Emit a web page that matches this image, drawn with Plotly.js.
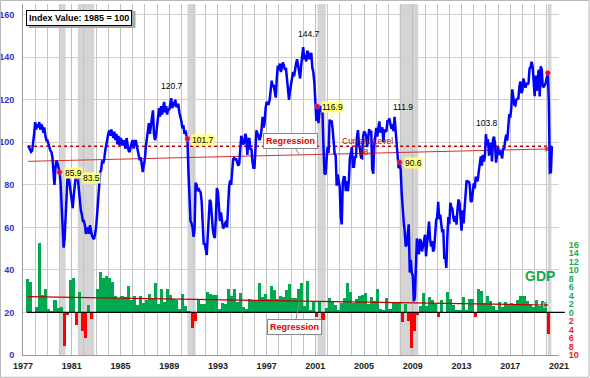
<!DOCTYPE html>
<html><head><meta charset="utf-8">
<script src="https://cdn.plot.ly/plotly-3.0.1.min.js"></script>
<style>html,body{margin:0;padding:0;background:#fff}#chart{width:590px;height:378px}</style>
</head><body><div id="chart"></div>
<script>
// Consumer confidence index, monthly, starting June 1977
const cciStartYear = 1977, cciStartMonth = 6;
const cciValues = [
  98.5, 97.5, 96.5, 95.5, 96, 99, 104,
  109.5, 106, 108.5, 107, 109.5, 106, 108.5, 107.5, 104.5, 107, 103, 101,
  101, 99, 97.5, 96, 95.4, 93, 86, 80, 88, 91.5, 90, 88,
  85.9, 81, 70, 58, 50.5, 55, 64, 76, 85, 84, 80, 76,
  72, 69, 75, 80, 84, 82, 83.5, 78, 72, 68, 66, 63,
  63, 61, 57, 58, 60, 57, 61, 58, 56, 55, 54.5, 57,
  60, 66, 74, 80, 86, 87, 91.5, 90, 92, 96, 99, 103,
  104, 105.6, 103, 106, 104, 102, 105, 101, 104, 99, 103, 98.5,
  102, 101, 98.5, 101, 99, 97, 102, 98, 96, 95.4, 98, 99.5,
  101, 97, 100, 101, 98.6, 96, 95, 91.5, 93, 88, 86, 89,
  92, 97.8, 101, 105, 109, 104, 108, 112, 115, 104, 101, 103,
  108, 113, 116, 112, 117, 113, 116, 119, 114, 117, 113, 116,
  115, 118, 120.7, 116, 119, 117, 120, 116.5, 117, 118, 114, 112,
  110, 106.5, 108, 104, 105.5, 103, 101.7, 86, 74, 63, 62, 60,
  55.5, 59, 81, 80, 77, 78.5, 77, 76.5, 72, 60, 52, 52.5,
  50, 47, 56, 65, 73, 72, 62, 59, 56, 55, 65, 78.5,
  76.5, 68.5, 63, 67, 61.5, 59.6, 60, 62, 63, 60, 71.5, 79,
  82, 80, 86, 92, 92.6, 92, 92, 90, 89, 90, 100, 103,
  101, 99, 100, 104, 102, 94, 101, 102, 96.5, 97, 91, 88,
  88, 98, 105.6, 104, 103, 101, 102.5, 106, 112, 107, 109, 116,
  119, 118, 118, 120, 125, 129, 126, 127, 124, 121, 130, 136,
  134, 137, 133, 136, 137.5, 136, 134, 135, 129, 122, 120, 124,
  128, 131.5, 133, 131, 135, 137, 139, 136, 134, 130, 136, 141,
  144.7, 139, 141, 138, 143, 142, 139, 141, 142, 135, 133, 128,
  118, 110, 116.9, 109, 114, 117, 116, 114, 97.8, 85.4, 84.9, 94.6,
  97.8, 95, 110.7, 108.5, 110.3, 106.3, 97.4, 94.5, 93.7, 79.6, 84.9, 80.7,
  78.8, 64.8, 61.4, 81, 83.6, 83.5, 77, 81.7, 77, 81.7, 92.5, 94.8,
  97.7, 88.5, 88.5, 93, 93.1, 102.8, 105.7, 98.7, 96.7, 92.9, 92.6, 102.7,
  105.1, 104.4, 103, 97.7, 103.1, 106.2, 103.6, 105.5, 87.5, 85.2, 98.3, 103.8,
  106.8, 102.7, 107.5, 109.8, 104.7, 105.4, 107, 100.2, 105.9, 105.1, 105.3, 110,
  110.2, 111.2, 108.2, 106.3, 108.5, 105.3, 111.9, 105.6, 99.5, 95.2, 87.8, 90.6,
  87.3, 76.4, 65.9, 62.8, 58.1, 51, 51.9, 58.5, 61.4, 38.8, 44.7, 38.6,
  37.4, 25.3, 26.9, 40.8, 54.8, 49.3, 47.4, 54.5, 53.4, 48.7, 50.6, 53.6,
  56.5, 46.4, 52.3, 57.7, 62.7, 54.3, 51, 53.5, 48.6, 49.9, 57.8, 63.4,
  64.8, 72, 63.8, 66, 61.7, 57.6, 59.2, 45.2, 46.4, 40.9, 55.2, 64.8,
  61.5, 71.6, 69.5, 68.7, 64.4, 62.7, 65.4, 61.3, 68.4, 73.1, 71.5, 66.7,
  58.4, 68, 61.9, 69, 76.2, 82.1, 81, 81.8, 80.2, 72.4, 72, 77.5,
  80.7, 78.3, 83.9, 81.7, 82.2, 86.4, 90.3, 93.4, 89, 94.1, 91, 93.1,
  103.8, 98.8, 101.4, 94.3, 94.6, 99.8, 91, 101.3, 102.6, 99.1, 90.4, 96.3,
  97.8, 94, 96.1, 94.7, 92.4, 97.4, 96.7, 101.1, 103.5, 100.8, 109.4, 113.3,
  111.6, 116.1, 124.9, 119.4, 117.6, 117.3, 120, 120.4, 120.6, 126.2, 128.6, 123.1,
  124.3, 130, 127, 125.6, 128, 127.1, 127.9, 134.7, 135.3, 137.9, 135.7, 126.6,
  121.7, 131.4, 124.2, 129.2, 134.1, 121.5, 135.7, 134.2, 126.3, 126.1, 126.8, 128.2,
  130.4, 132.6, 118.8, 85.7, 85.9, 98.1
];
// Real GDP growth, quarterly (annualized %), starting 1977 Q2
const gdpStartYear = 1977, gdpStartQuarter = 2;
const gdpValues = [
  7.8, 7.1, 0.0,
  1.3, 16.4, 4.1, 5.5,   0.7, 0.4, 3.0, 1.0,   1.3, -8.0, -0.5, 7.7,
  8.1, -2.9, 4.9, -4.3,  -6.1, 1.8, -1.5, 0.2,  5.4, 9.4, 8.2, 8.6,
  8.1, 7.1, 3.9, 3.3,    3.9, 3.6, 6.2, 3.0,    3.8, 1.8, 3.9, 2.2,
  3.0, 4.4, 3.5, 7.0,    2.1, 5.4, 2.4, 5.4,    4.1, 3.1, 3.0, 0.8,
  4.4, 1.5, 0.3, -3.6,   -1.9, 3.2, 2.0, 1.9,   4.9, 4.4, 4.0, 4.2,
  0.7, 2.3, 1.9, 5.4,    3.9, 5.5, 2.4, 4.6,    1.4, 0.9, 3.2, 2.9,
  2.6, 7.0, 3.6, 4.3,    3.1, 6.2, 5.2, 3.1,    3.8, 3.7, 5.3, 6.7,
  3.4, 3.4, 5.4, 7.0,    1.5, 7.5, 0.5, 2.5,    -1.1, 2.4, -1.7, 1.1,
  3.5, 2.4, 1.8, 0.6,    2.2, 3.5, 7.0, 4.7,    2.2, 3.1, 3.8, 4.1,
  4.5, 1.9, 3.6, 2.6,    5.4, 0.9, 0.6, 3.5,    0.9, 2.3, 2.2, 2.5,
  -2.3, 2.1, -2.1, -8.4, -4.4, -0.6, 1.5, 4.5,  1.5, 3.7, 3.0, 2.0,
  -1.0, 2.9, -0.1, 4.7,  3.2, 1.7, 0.5, 0.5,    3.6, 0.5, 3.2, 3.2,
  -1.1, 5.5, 5.0, 2.3,   3.8, 2.7, 1.5, 0.6,    2.4, 1.2, 2.4, 2.0,
  2.3, 1.7, 2.9, 3.9,    3.8, 2.7, 2.1, 1.3,    2.9, 1.5, 2.6, 2.4,
  -5.0
];
const recessions = [[1980.0, 1980.5], [1981.5, 1982.85], [1990.5, 1991.17], [2001.17, 2001.85], [2007.92, 2009.45], [2020.08, 2020.38]];
const recessionStarts = [[1980, 1], [1981, 7], [1990, 7], [2001, 3], [2007, 12], [2020, 2]];
const recessionLabelled = [true, true, true, true, true, false];
const peakDates = [[1989, 3], [2000, 1], [2007, 7], [2015, 1]];
const xTickYears = [1977, 1981, 1985, 1989, 1993, 1997, 2001, 2005, 2009, 2013, 2017, 2021];
const leftTicks = [0, 20, 40, 60, 80, 100, 120, 140, 160];
const gdpPosTicks = [0, 2, 4, 6, 8, 10, 12, 14, 16];
const gdpNegTicks = [-2, -4, -6, -8, -10];

const cciX = cciValues.map((v, i) => cciStartYear + (cciStartMonth - 1 + i) / 12);
const gdpX = gdpValues.map((v, i) => gdpStartYear + (gdpStartQuarter - 1 + i) / 4 + 0.125);
const monthX = (y, m) => y + (m - 1) / 12;
const cciAt = (y, m) => cciValues[Math.round((monthX(y, m) - cciX[0]) * 12)];

function linreg(xs, ys) {
  const n = xs.length;
  const mx = xs.reduce((a, b) => a + b, 0) / n, my = ys.reduce((a, b) => a + b, 0) / n;
  let sxy = 0, sxx = 0;
  for (let i = 0; i < n; i++) { sxy += (xs[i] - mx) * (ys[i] - my); sxx += (xs[i] - mx) ** 2; }
  const b = sxy / sxx; return x => my + b * (x - mx);
}
const cciFit = linreg(cciX, cciValues);
const gdpFit = linreg(gdpX, gdpValues);
const cciX0 = cciX[0], cciX1 = cciX[cciX.length - 1];
const gdpX0 = gdpX[0], gdpX1 = gdpX[gdpX.length - 1] + 0.25;
const current = cciValues[cciValues.length - 1];

const green = '#00a94f', red = '#ff0000', dark = '#c00000';
const FONT = 'Liberation Sans, Arial, sans-serif';

const pos = gdpValues.map((v, i) => [gdpX[i], v]).filter(p => p[1] > 0);
const neg = gdpValues.map((v, i) => [gdpX[i], v]).filter(p => p[1] < 0);

const traces = [
  {type: 'bar', x: pos.map(p => p[0]), y: pos.map(p => p[1]), width: 0.25, base: 0, yaxis: 'y',
   marker: {color: green, line: {width: 0}}, hoverinfo: 'skip'},
  {type: 'bar', x: neg.map(p => p[0]), y: neg.map(p => p[1]), width: 0.25, base: 0, yaxis: 'y',
   marker: {color: red, line: {width: 0}}, hoverinfo: 'skip'},
  {type: 'scatter', mode: 'lines', x: [cciX0, cciX1], y: [current, current], yaxis: 'y2',
   line: {color: dark, width: 1.4, dash: 'dot'}},
  {type: 'scatter', mode: 'lines+markers', x: [cciX0, cciX1], y: [cciFit(cciX0), cciFit(cciX1)], yaxis: 'y2',
   line: {color: '#d03030', width: 1}, marker: {symbol: 'arrow', angleref: 'previous', size: [0, 7], color: dark}},
  {type: 'scatter', mode: 'lines', x: cciX, y: cciValues, yaxis: 'y2', line: {color: '#0000ff', width: 2.5}},
  {type: 'scatter', mode: 'markers', yaxis: 'y2',
   x: recessionStarts.map(d => monthX(d[0], d[1])), y: recessionStarts.map(d => cciAt(d[0], d[1])),
   marker: {color: '#d0103a', size: 5, line: {color: '#ff6080', width: 0.5}}},
  {type: 'scatter', mode: 'lines+markers', x: [gdpX0, gdpX1], y: [gdpFit(gdpX0), gdpFit(gdpX1)], yaxis: 'y3',
   line: {color: dark, width: 1.2}, marker: {symbol: 'arrow', angleref: 'previous', size: [0, 8], color: dark}}
];

const shapes = recessions.map(r => ({type: 'rect', xref: 'x', yref: 'paper', x0: r[0], x1: r[1], y0: 0, y1: 1,
  fillcolor: '#d4d4d4', line: {width: 0}, layer: 'below'}));
shapes.push({type: 'line', xref: 'paper', yref: 'y', x0: 0.007, x1: 1.011, y0: 0, y1: 0, line: {color: '#000', width: 1.2}});
shapes.push({type: 'rect', xref: 'paper', yref: 'paper', x0: -0.042, x1: 1.056, y0: -0.0635, y1: 1.0099,
  line: {color: '#b8b8b8', width: 1}});
// drop shadow of the index-value box
shapes.push({type: 'rect', xref: 'paper', yref: 'paper', x0: 0.0103, x1: 0.2099, y0: 0.9316, y1: 0.980,
  fillcolor: '#a8a8a8', line: {width: 0}});

const annotations = [];
annotations.push({xref: 'paper', yref: 'paper', x: 0.1045, y: 0.9615, xanchor: 'center', yanchor: 'middle',
  text: '<b>Index Value: 1985 = 100</b>', showarrow: false, bgcolor: '#fff', bordercolor: '#000',
  borderwidth: 1, borderpad: 2, font: {family: FONT, size: 9, color: '#000'}});
recessionStarts.forEach((d, i) => {
  if (!recessionLabelled[i]) return;
  const v = cciAt(d[0], d[1]);
  annotations.push({x: monthX(d[0], d[1]), y: v, xref: 'x', yref: 'y2', text: v.toFixed(1), showarrow: false,
    xanchor: 'left', xshift: 4, yshift: -1, bgcolor: '#ffff80', borderpad: 0,
    font: {family: FONT, size: 8.5, color: '#000'}});
});
const peakShift = [[1, 5], [6, 6], [8, 3], [1, 4]];
peakDates.forEach((d, i) => {
  const v = cciAt(d[0], d[1]);
  annotations.push({x: monthX(d[0], d[1]), y: v, xref: 'x', yref: 'y2', text: v.toFixed(1), showarrow: false,
    yanchor: 'bottom', xshift: peakShift[i][0], yshift: peakShift[i][1],
    font: {family: FONT, size: 8.5, color: '#000'}});
});
annotations.push({x: 2005.3, y: current, xref: 'x', yref: 'y2', text: 'Current Level', showarrow: false,
  yanchor: 'bottom', yshift: -2, font: {family: FONT, size: 8.5, color: dark}});
annotations.push({x: 2005.3, y: current, xref: 'x', yref: 'y2', text: current.toFixed(1), showarrow: false,
  yanchor: 'top', yshift: 1, font: {family: FONT, size: 8.5, color: dark}});
annotations.push({x: 1999.7, y: cciFit(1999.7), xref: 'x', yref: 'y2', text: '<b>Regression</b>',
  showarrow: true, arrowhead: 0, arrowcolor: '#888', arrowwidth: 1, ax: -9, ay: -14,
  bgcolor: '#fff', bordercolor: '#888', borderwidth: 1, borderpad: 2, font: {family: FONT, size: 9, color: '#e00000'}});
annotations.push({x: 1999.7, y: gdpFit(1999.7), xref: 'x', yref: 'y', text: '<b>Regression</b>',
  showarrow: true, arrowhead: 0, arrowcolor: '#888', arrowwidth: 1, ax: -5, ay: 26,
  bgcolor: '#fff', bordercolor: '#888', borderwidth: 1, borderpad: 2, font: {family: FONT, size: 9, color: '#e00000'}});
annotations.push({x: 2019.45, y: 8.5, xref: 'x', yref: 'y', text: '<b>GDP</b>', showarrow: false,
  font: {family: FONT, size: 14, color: '#1aa54f'}});

const layout = {
  width: 590, height: 378, margin: {l: 23, r: 31, t: 4, b: 23},
  paper_bgcolor: '#fff', plot_bgcolor: '#fff', showlegend: false, bargap: 0,
  font: {family: FONT, size: 9, color: '#222'},
  xaxis: {range: [1977, 2021], tickvals: xTickYears, ticktext: xTickYears.map(String),
    showgrid: true, gridcolor: '#bdbdbd', gridwidth: 1,
    minor: {dtick: 1, tick0: 1977, showgrid: true, gridcolor: '#c4c4c4', gridwidth: 1},
    showline: true, linecolor: '#9a9a9a', ticks: 'outside', ticklen: 2, tickcolor: 'rgba(0,0,0,0)',
    tickfont: {family: FONT, size: 9, color: '#222', weight: 'bold'}, zeroline: false, fixedrange: true},
  yaxis: {side: 'right', range: [-10, 72.5], tickvals: gdpPosTicks, ticktext: gdpPosTicks.map(String),
    showgrid: false, zeroline: false, ticks: 'outside', ticklen: 7, tickcolor: 'rgba(0,0,0,0)',
    tickfont: {family: FONT, size: 9, color: '#22a84f', weight: 'bold'}},
  yaxis3: {side: 'right', overlaying: 'y', range: [-10, 72.5], tickvals: gdpNegTicks, ticktext: gdpNegTicks.map(v => String(-v)),
    showgrid: false, zeroline: false, ticks: 'outside', ticklen: 7, tickcolor: 'rgba(0,0,0,0)',
    tickfont: {family: FONT, size: 9, color: '#ee1c1c', weight: 'bold'}},
  yaxis2: {side: 'left', overlaying: 'y', range: [0, 165], tickvals: leftTicks, ticktext: leftTicks.map(String),
    showgrid: true, gridcolor: '#cfcfcf', gridwidth: 1, zeroline: false, showline: true, linecolor: '#9a9a9a',
    ticks: 'outside', ticklen: 6, tickcolor: 'rgba(0,0,0,0)',
    tickfont: {family: FONT, size: 9, color: '#3333cc', weight: 'bold'}},
  shapes: shapes, annotations: annotations
};
Plotly.newPlot('chart', traces, layout, {displayModeBar: false, staticPlot: true});
</script></body></html>
